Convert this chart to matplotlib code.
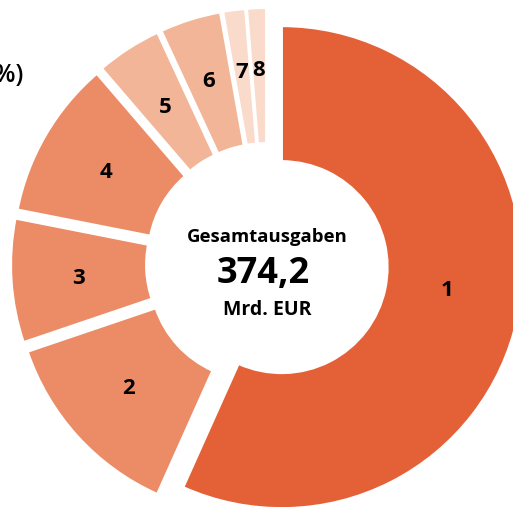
import numpy as np
import matplotlib
matplotlib.use('Agg')
import matplotlib.pyplot as plt

plt.rcParams['font.family'] = ['Open Sans', 'DejaVu Sans']

# shares of total spending (in %), ring order starting at 12 o'clock
labels = ['1', '2', '3', '4', '5', '6', '7', '8']
shares = [56.7, 13.1, 8.3, 10.6, 4.4, 4.1, 1.5, 1.3]
colors = ['#E46138', '#EC8C66', '#EC8C66', '#EC8C66',
          '#F3B597', '#F3B597', '#F9DACB', '#F9DACB']

total_label = 'Gesamtausgaben'
total_value = '374,2'
total_unit = 'Mrd. EUR'

# label placement inside each wedge: radius and turn (deg) off the mid-angle
label_r = [0.69, 0.70, 0.72, 0.71, 0.72, 0.74, 0.75, 0.75]
label_turn = [5, -1, 0, 0, 0, 0, 0, 0]

# pixel geometry of the figure, ring radius = 1 data unit
W, H = 513, 507
cx, cy = 267, 264
S = 241.3

fig = plt.figure(figsize=(W / 100, H / 100), dpi=100)
ax = fig.add_axes([0, 0, 1, 1])

wedges, texts = ax.pie(
    shares, labels=labels, colors=colors, startangle=90, counterclock=False,
    radius=1.0, explode=[0.062] * len(shares), labeldistance=0.72,
    wedgeprops=dict(width=0.562, edgecolor='white', linewidth=1.9),
    textprops=dict(fontsize=16, fontweight='bold', color='black',
                   ha='center', va='center_baseline'))
for w, t, r, da in zip(wedges, texts, label_r, label_turn):
    th = np.deg2rad(0.5 * (w.theta1 + w.theta2) + da)
    x0, y0 = w.center
    t.set_position((x0 + r * np.cos(th), y0 + r * np.sin(th)))
    t.set_ha('center')

# pie() resets the limits, so set them afterwards
ax.set_xlim(-cx / S, (W - cx) / S)
ax.set_ylim(-(H - cy) / S, cy / S)
ax.set_aspect('equal')
ax.axis('off')

# centre caption
ax.text(0, (cy - 242) / S, total_label, ha='center', va='baseline',
        fontsize=13.3, fontweight='bold')
ax.text(-0.015, (cy - 283) / S, total_value, ha='center', va='baseline',
        fontsize=26, fontweight='bold')
ax.text(0, (cy - 315) / S, total_unit, ha='center', va='baseline',
        fontsize=14, fontweight='bold')

# tail of the chart heading
ax.text((23 - cx) / S, (cy - 82) / S, '%)', ha='right', va='baseline',
        fontsize=18, fontweight='semibold')

fig.savefig('out.png', dpi=100)
